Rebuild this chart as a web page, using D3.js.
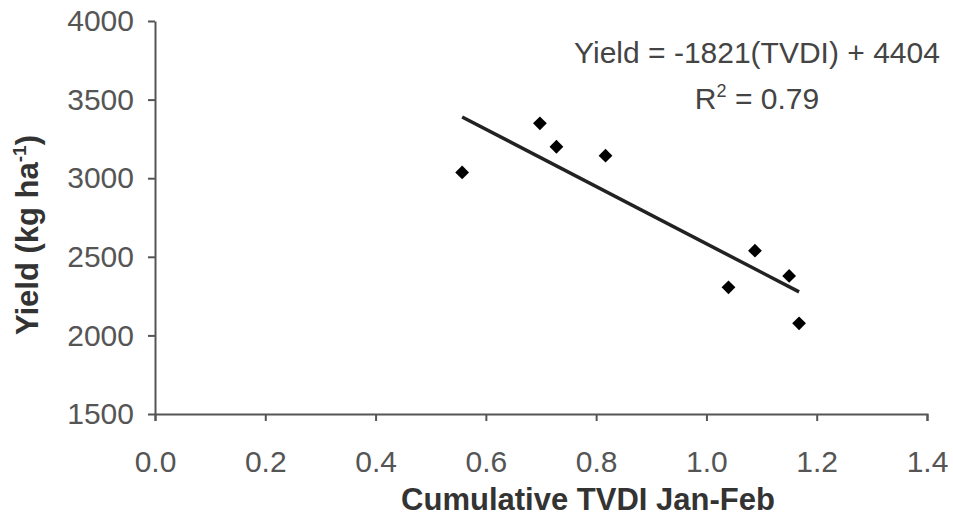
<!DOCTYPE html>
<html>
<head>
<meta charset="utf-8">
<script src="https://cdn.jsdelivr.net/npm/d3@7"></script>
<style>
  body { margin: 0; background: #fff; }
  svg { display: block; }
</style>
</head>
<body>
<div class="chart_area"></div>
<script>
// data
var tvdi = [0.557, 0.698, 0.728, 0.817, 1.040, 1.088, 1.150, 1.168];
var yieldVals = [3037, 3349, 3200, 3143, 2306, 2539, 2378, 2077];
var xTicks = [0.0, 0.2, 0.4, 0.6, 0.8, 1.0, 1.2, 1.4];
var yTicks = [1500, 2000, 2500, 3000, 3500, 4000];
var slope = -1821, intercept = 4404;
var eqText = "Yield = -1821(TVDI) + 4404";

var width = 953, height = 518;
var margin = { top: 21, right: 26, bottom: 104, left: 155 },
    w = width - margin.left - margin.right,
    h = height - margin.top - margin.bottom;

var svg = d3.select(".chart_area")
    .append("svg")
    .attr("width", width)
    .attr("height", height)
    .style("font-family", "Liberation Sans, Arial, sans-serif");

var g = svg.append("g")
    .attr("transform", "translate(" + margin.left + "," + margin.top + ")");

var x = d3.scaleLinear().domain([0, 1.4]).range([0, w]);
var y = d3.scaleLinear().domain([1500, 4000]).range([h, 0]);

// axes
var xAxis = g.append("g")
    .attr("transform", "translate(0," + h + ")")
    .call(d3.axisBottom(x).tickValues(xTicks).tickFormat(d3.format(".1f"))
        .tickSizeInner(7).tickSizeOuter(7).tickPadding(30));

var yAxis = g.append("g")
    .call(d3.axisLeft(y).tickValues(yTicks).tickFormat(d3.format("d"))
        .tickSizeInner(7).tickSizeOuter(0).tickPadding(14));

[xAxis, yAxis].forEach(function(a){
    a.select(".domain").style("stroke", "#555").style("stroke-width", 2);
    a.selectAll("line").style("stroke", "#555").style("stroke-width", 2);
    a.selectAll("text")
        .style("fill", "#555")
        .style("font-size", "30px");
});

// regression line
var x0 = d3.min(tvdi), x1 = d3.max(tvdi);
g.append("line")
    .attr("x1", x(x0)).attr("y1", y(slope * x0 + intercept))
    .attr("x2", x(x1)).attr("y2", y(slope * x1 + intercept))
    .style("stroke", "#222")
    .style("stroke-width", 3.5);

// points
g.selectAll(".pt")
    .data(tvdi)
    .enter()
    .append("path")
    .attr("class", "pt")
    .attr("d", d3.symbol().type(d3.symbolSquare).size(95))
    .attr("transform", function(d, i){
        return "translate(" + x(d) + "," + y(yieldVals[i]) + ")rotate(45)";
    })
    .style("fill", "#000");

// equation
svg.append("text")
    .attr("x", 757)
    .attr("y", 63)
    .attr("text-anchor", "middle")
    .style("fill", "#444")
    .style("font-size", "30px")
    .text(eqText);

var r2 = svg.append("text")
    .attr("x", 757)
    .attr("y", 109)
    .attr("text-anchor", "middle")
    .style("fill", "#444")
    .style("font-size", "30px");
r2.append("tspan").text("R");
r2.append("tspan").attr("dy", -12).style("font-size", "18px").text("2");
r2.append("tspan").attr("dy", 12).text(" = 0.79");

// axis titles
svg.append("text")
    .attr("x", 588)
    .attr("y", 510)
    .attr("text-anchor", "middle")
    .style("font-weight", "bold")
    .style("font-size", "31px")
    .style("fill", "#333")
    .text("Cumulative TVDI Jan-Feb");

var yl = svg.append("text")
    .attr("transform", "translate(38,235)rotate(-90)")
    .attr("text-anchor", "middle")
    .style("font-weight", "bold")
    .style("font-size", "31px")
    .style("fill", "#333");
yl.append("tspan").text("Yield (kg ha");
yl.append("tspan").attr("dy", -12).style("font-size", "19px").text("-1");
yl.append("tspan").attr("dy", 12).text(")");
</script>
</body>
</html>
